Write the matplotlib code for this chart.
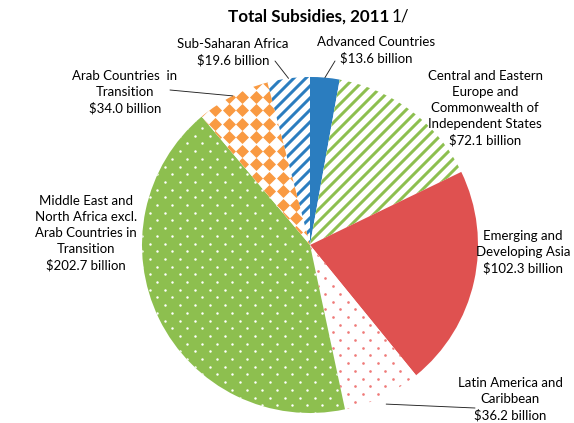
import matplotlib
matplotlib.use("Agg")
import matplotlib.pyplot as plt
import numpy as np

plt.rcParams['font.family'] = ['Lato', 'DejaVu Sans']
plt.rcParams['hatch.linewidth'] = 3.0

# regions, clockwise from 12 o'clock
regions = ['Advanced Countries',
           'Central and Eastern\nEurope and\nCommonwealth of\nIndependent States',
           'Emerging and\nDeveloping Asia',
           'Latin America and\nCaribbean',
           'Middle East and\nNorth Africa excl.\nArab Countries in\nTransition',
           'Arab Countries  in\nTransition',
           'Sub-Saharan Africa']
values = [13.6, 72.1, 102.3, 36.2, 202.7, 34.0, 19.6]

# figure is laid out in pixel units (dpi 72 -> 1 pt = 1 px)
W, H = 574, 423
CX, CY, R = 310, H - 245, 168

blue = '#2b7dbf'
green = '#8dbf4f'
red = '#df5150'
dot_red = '#ef7a78'
orange = '#f99a42'

fig = plt.figure(figsize=(W / 72, H / 72), dpi=72)
ax = fig.add_axes([0, 0, 1, 1])
explode = [0.03, 0, 0, 0, 0, 0, 0]
wedges, _ = ax.pie(values, startangle=90, counterclock=False, center=(CX, CY),
                   radius=R, explode=explode, frame=False,
                   wedgeprops=dict(linewidth=0))
ax.set_xlim(0, W)
ax.set_ylim(0, H)
ax.set_aspect('equal')
ax.axis('off')


def texture(wedge, color, marker, s, step_x, step_y, stagger=True):
    ext = wedge.get_path().get_extents()
    xs, ys = [], []
    for j, y in enumerate(np.arange(ext.y0 - step_y, ext.y1 + step_y, step_y)):
        off = (j % 2) * step_x / 2 if stagger else 0
        for x in np.arange(ext.x0 - step_x + off, ext.x1 + step_x, step_x):
            xs.append(x)
            ys.append(y)
    sc = ax.scatter(xs, ys, s=s, marker=marker, c=color, linewidths=0, zorder=3)
    sc.set_clip_path(wedge)


# styles
wedges[0].set_facecolor(blue)
wedges[1].set_facecolor('white'); wedges[1].set_edgecolor(green); wedges[1].set_hatch('//')
wedges[2].set_facecolor(red)
wedges[3].set_facecolor('white')
texture(wedges[3], dot_red, 'o', 7, 15, 7.7)
wedges[4].set_facecolor(green)
texture(wedges[4], 'white', 'o', 6, 15, 7.7)
wedges[5].set_facecolor('white')
texture(wedges[5], orange, 'D', 85, 13.5, 13.5, stagger=False)
wedges[6].set_facecolor('white'); wedges[6].set_edgecolor(blue); wedges[6].set_hatch('//')
for w in wedges:
    w.set_linewidth(0)

labels = [f'{r}\n${v:.1f} billion' for r, v in zip(regions, values)]
# label centres (x, y from top) and leader line ends
label_pos = [(376, 50), (485, 108), (523, 252), (510, 399), (86, 233), (125, 92), (233, 52)]
leader_end = [(335, 61), None, None, (475, 408), None, (170, 90), (275, 61)]
leader_r = [1.0, None, None, 1.05, None, 1.0, 1.0]

for w, lab, (lx, ly), le, lr in zip(wedges, labels, label_pos, leader_end, leader_r):
    ax.text(lx, H - ly, lab, ha='center', va='center', fontsize=13.2,
            linespacing=1.4, color='black')
    if le is not None:
        ang = np.deg2rad((w.theta1 + w.theta2) / 2)
        cx, cy = w.center
        ax.annotate('', xy=(cx + lr * R * np.cos(ang), cy + lr * R * np.sin(ang)),
                    xytext=(le[0], H - le[1]),
                    arrowprops=dict(arrowstyle='-', lw=0.9, color='#222222',
                                    shrinkA=0, shrinkB=0))

ax.text(389, H - 17, 'Total Subsidies, 2011', ha='right', va='center',
        fontsize=17, fontweight='bold')
ax.text(392, H - 17, '1/', ha='left', va='center', fontsize=17)

fig.savefig('out.png', dpi=72)
